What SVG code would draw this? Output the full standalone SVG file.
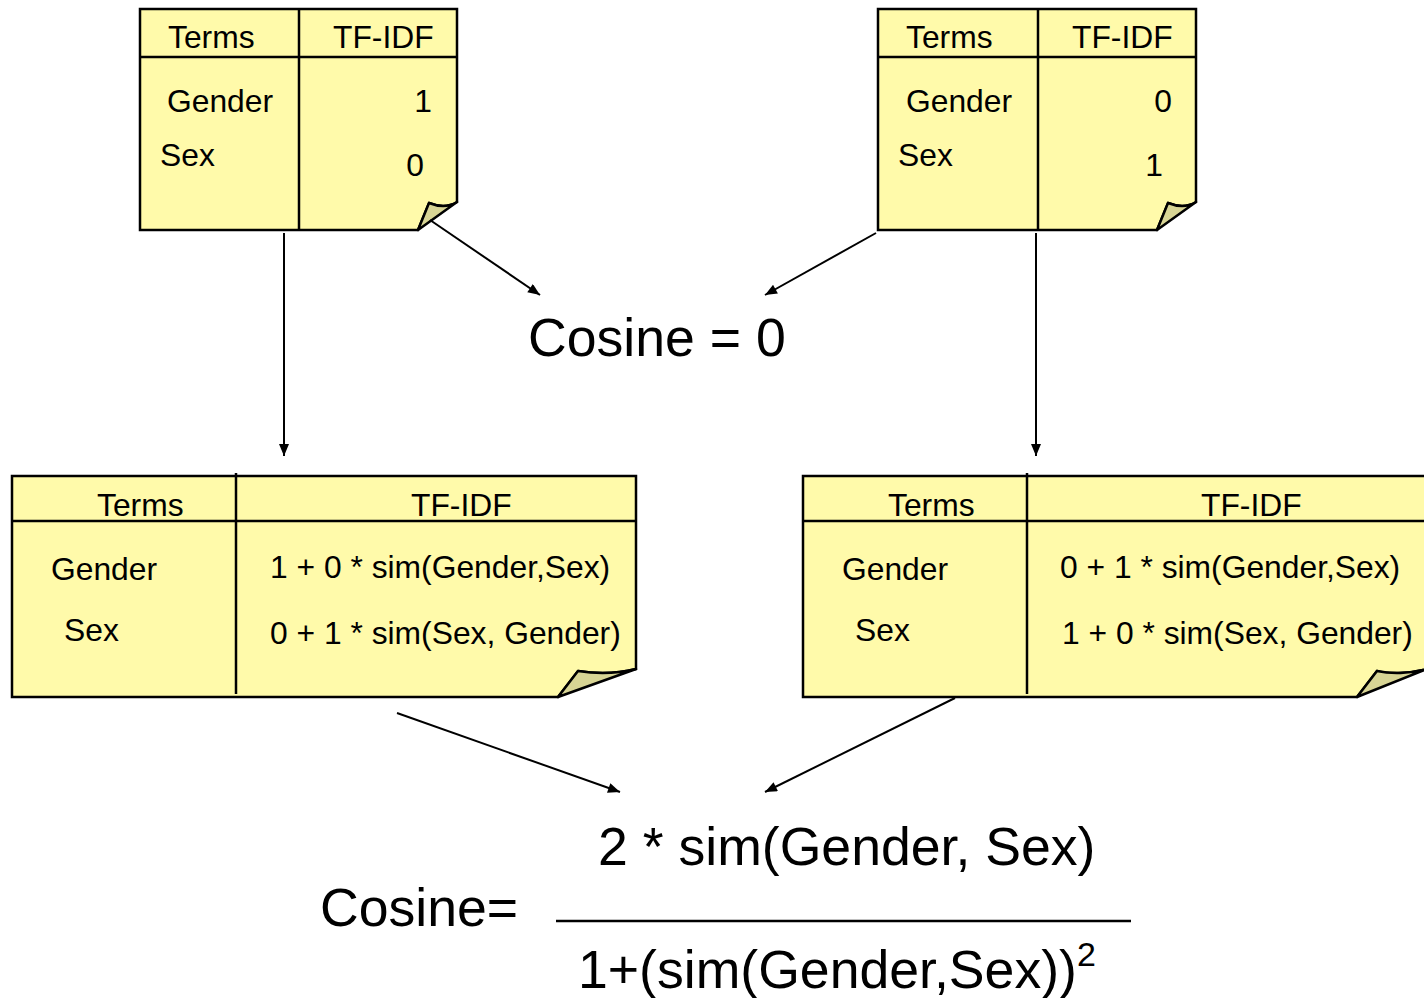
<svg xmlns="http://www.w3.org/2000/svg" width="1424" height="998" viewBox="0 0 1424 998">
  <style>
    .page { fill: #fffaaa; stroke: #000; stroke-width: 2.5; stroke-linejoin: miter; }
    .fold { fill: #d8d595; stroke: #000; stroke-width: 2.5; stroke-linejoin: round; }
    .rule { stroke: #000; stroke-width: 2.5; fill: none; }
    .t { font-family: "Liberation Sans", Arial, sans-serif; font-size: 31.8px; fill: #000; }
    .big { font-family: "Liberation Sans", Arial, sans-serif; font-size: 53.6px; fill: #000; }
    .conn { stroke: #000; stroke-width: 2; fill: none; marker-end: url(#arrow); }
  </style>
  <defs>
    <marker id="arrow" viewBox="0 0 12 10" refX="12" refY="5" markerWidth="13" markerHeight="10" markerUnits="userSpaceOnUse" orient="auto">
      <path d="M0,0 L12,5 L0,10 Z" fill="#000"/>
    </marker>
  </defs>
  <rect width="1424" height="998" fill="#fff"/>

  <!-- top-left note: original vectors -->
  <g id="note-doc1">
    <path class="page" d="M140,9 H457 V202 C449,207 439,207 429,203 L418,230 H140 Z"/>
    <path class="fold" d="M429,203 C439,207 449,207 457,202 L418,230 Z"/>
    <line class="rule" x1="140" y1="57" x2="457" y2="57"/>
    <line class="rule" x1="299" y1="9" x2="299" y2="230"/>
    <text class="t" x="168" y="48">Terms</text>
    <text class="t" x="333" y="48">TF-IDF</text>
    <text class="t" x="167" y="112">Gender</text>
    <text class="t" x="160" y="166">Sex</text>
    <text class="t" x="432" y="112" text-anchor="end">1</text>
    <text class="t" x="424" y="176" text-anchor="end">0</text>
  </g>

  <!-- top-right note: original vectors -->
  <g id="note-doc2">
    <path class="page" d="M878,9 H1196 V202 C1188,207 1178,207 1168,203 L1157,230 H878 Z"/>
    <path class="fold" d="M1168,203 C1178,207 1188,207 1196,202 L1157,230 Z"/>
    <line class="rule" x1="878" y1="57" x2="1196" y2="57"/>
    <line class="rule" x1="1038" y1="9" x2="1038" y2="230"/>
    <text class="t" x="906" y="48">Terms</text>
    <text class="t" x="1072" y="48">TF-IDF</text>
    <text class="t" x="906" y="112">Gender</text>
    <text class="t" x="898" y="166">Sex</text>
    <text class="t" x="1172" y="112" text-anchor="end">0</text>
    <text class="t" x="1163" y="176" text-anchor="end">1</text>
  </g>

  <!-- cosine of the raw vectors -->
  <g id="cosine-raw">
    <text class="big" x="528" y="356" font-size="53">Cosine = 0</text>
  </g>

  <!-- bottom-left note: similarity-expanded vector 1 -->
  <g id="note-doc1-expanded">
    <path class="page" d="M12,476 H636 V669 C616,674 596,674 578,671 L558,697 H12 Z"/>
    <path class="fold" d="M578,671 C596,674 616,674 636,669 L558,697 Z"/>
    <line class="rule" x1="12" y1="521" x2="636" y2="521"/>
    <line class="rule" x1="236" y1="473" x2="236" y2="694"/>
    <text class="t" x="97" y="516">Terms</text>
    <text class="t" x="411" y="516">TF-IDF</text>
    <text class="t" x="51" y="580">Gender</text>
    <text class="t" x="64" y="641">Sex</text>
    <text class="t" x="270" y="578">1 + 0 * sim(Gender,Sex)</text>
    <text class="t" x="270" y="644">0 + 1 * sim(Sex, Gender)</text>
  </g>

  <!-- bottom-right note: similarity-expanded vector 2 -->
  <g id="note-doc2-expanded">
    <path class="page" d="M803,476 H1427 V669 C1407,674 1387,674 1377,671 L1357,697 H803 Z"/>
    <path class="fold" d="M1377,671 C1390,674 1410,674 1427,669 L1357,697 Z"/>
    <line class="rule" x1="803" y1="521" x2="1427" y2="521"/>
    <line class="rule" x1="1027" y1="473" x2="1027" y2="694"/>
    <text class="t" x="888" y="516">Terms</text>
    <text class="t" x="1201" y="516">TF-IDF</text>
    <text class="t" x="842" y="580">Gender</text>
    <text class="t" x="855" y="641">Sex</text>
    <text class="t" x="1060" y="578">0 + 1 * sim(Gender,Sex)</text>
    <text class="t" x="1062" y="644">1 + 0 * sim(Sex, Gender)</text>
  </g>

  <!-- cosine of the expanded vectors -->
  <g id="cosine-expanded">
    <text class="big" x="320" y="926" font-size="53">Cosine=</text>
    <text class="big" x="598" y="865">2 * sim(Gender, Sex)</text>
    <line x1="556" y1="921" x2="1131" y2="921" stroke="#000" stroke-width="2.5"/>
    <text class="big" x="578" y="988">1+(sim(Gender,Sex))<tspan font-size="34" dy="-22">2</tspan></text>
  </g>

  <g id="connectors">
    <line class="conn" x1="284" y1="233" x2="284" y2="456"/>
    <line class="conn" x1="430" y1="220" x2="540" y2="295"/>
    <line class="conn" x1="876" y1="233" x2="765" y2="295"/>
    <line class="conn" x1="1036" y1="233" x2="1036" y2="456"/>
    <line class="conn" x1="397" y1="713" x2="620" y2="792"/>
    <line class="conn" x1="955" y1="698" x2="765" y2="792"/>
  </g>
</svg>
